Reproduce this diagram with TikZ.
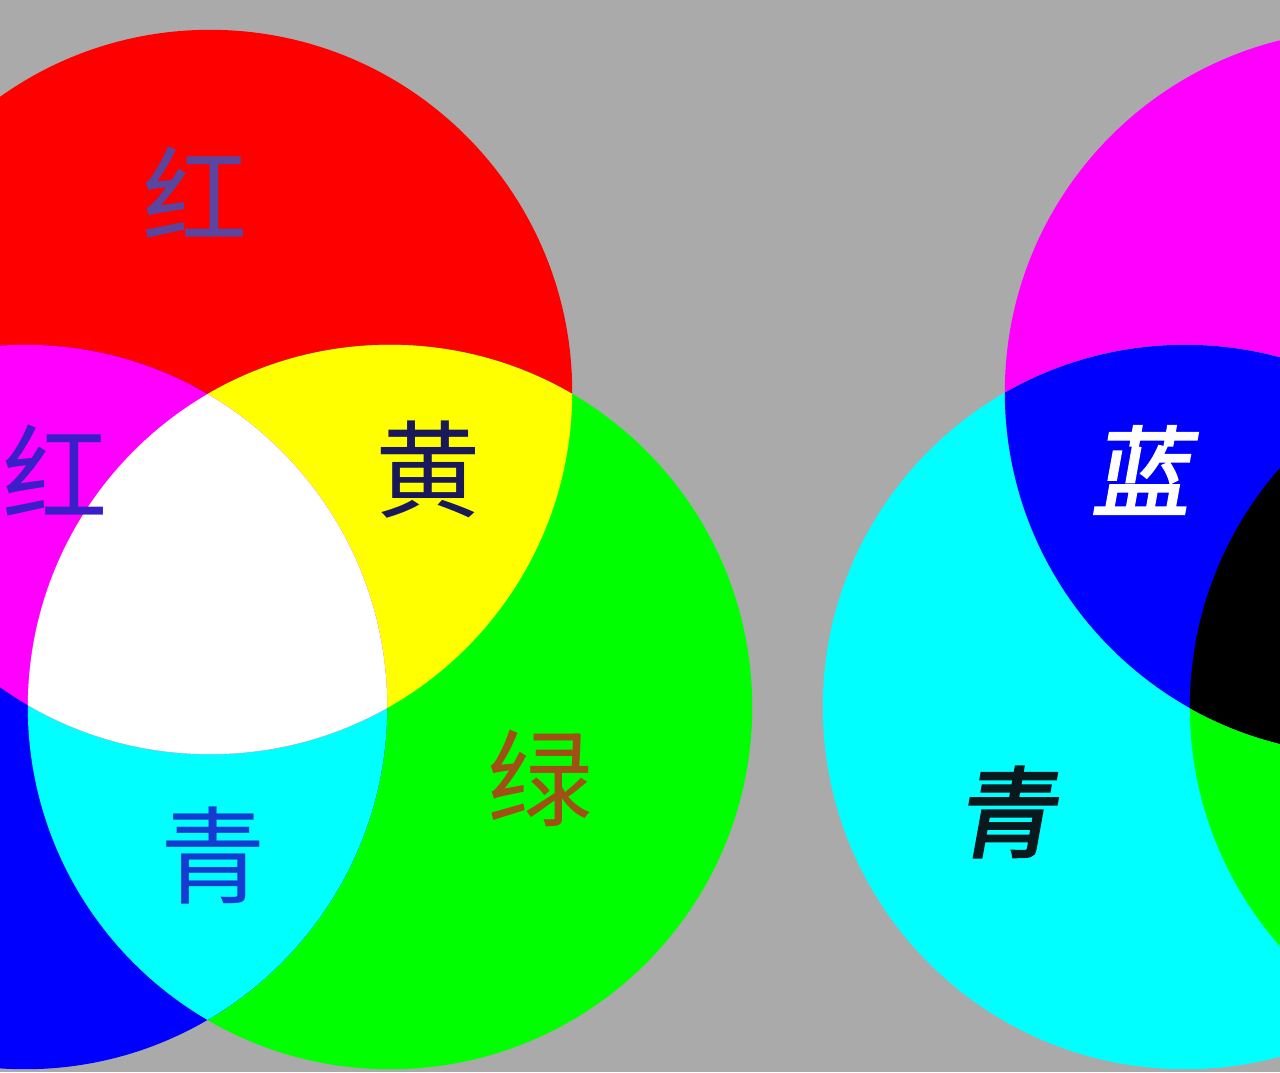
\documentclass[tikz,border=0pt]{standalone}
\usepackage{fontspec}
\usepackage{tikz}
\newfontfamily\cjk{Noto Sans CJK SC}
\newfontfamily\cjkslant[FakeSlant=0.18,FakeBold=2.5]{Noto Sans CJK SC}
\newcommand\ringr{3.62cm}
\definecolor{bg}{RGB}{170,170,170}
\definecolor{pred}{RGB}{255,0,0}
\definecolor{pgrn}{RGB}{0,255,0}
\definecolor{pblu}{RGB}{0,0,255}
\definecolor{pcyn}{RGB}{0,255,255}
\definecolor{pmag}{RGB}{255,0,255}
\definecolor{pyel}{RGB}{255,255,0}
\definecolor{lblred}{RGB}{90,70,160}
\definecolor{lblmag}{RGB}{60,30,200}
\definecolor{lblyel}{RGB}{25,25,90}
\definecolor{lblgrn}{RGB}{160,80,20}
\definecolor{lblcyn}{RGB}{20,60,210}
\definecolor{lbldark}{RGB}{10,25,30}

\begin{document}
\begin{tikzpicture}[x=0.01cm,y=-0.01cm,
  lbl/.style={inner sep=0pt,font=\cjk\fontsize{30}{30}\selectfont},
  slbl/.style={inner sep=0pt,font=\cjkslant\fontsize{28}{28}\selectfont}]
\useasboundingbox (0,0) rectangle (1280,1072);
\fill[bg] (0,0) rectangle (1280,1072);
\clip (0,0) rectangle (1280,1072);

\coordinate (r) at (210,392);
\coordinate (g) at (390,707);
\coordinate (b) at (25,707);
\coordinate (m) at (1367,392);
\coordinate (c) at (1185,707);
\coordinate (y) at (1552,707);

% additive
\fill[pred] (r) circle[radius=\ringr];
\fill[pgrn] (g) circle[radius=\ringr];
\fill[pblu] (b) circle[radius=\ringr];
\begin{scope}
  \clip (g) circle[radius=\ringr];
  \fill[pcyn] (b) circle[radius=\ringr];
\end{scope}
\begin{scope}
  \clip (r) circle[radius=\ringr];
  \fill[pyel] (g) circle[radius=\ringr];
  \fill[pmag] (b) circle[radius=\ringr];
  \clip (g) circle[radius=\ringr];
  \fill[white] (b) circle[radius=\ringr];
\end{scope}

% subtractive
\fill[pmag] (m) circle[radius=\ringr];
\fill[pyel] (y) circle[radius=\ringr];
\fill[pcyn] (c) circle[radius=\ringr];
\begin{scope}
  \clip (y) circle[radius=\ringr];
  \fill[pgrn] (c) circle[radius=\ringr];
\end{scope}
\begin{scope}
  \clip (m) circle[radius=\ringr];
  \fill[pred] (y) circle[radius=\ringr];
  \fill[pblu] (c) circle[radius=\ringr];
  \clip (y) circle[radius=\ringr];
  \fill[black] (c) circle[radius=\ringr];
\end{scope}

\node[lbl,text=lblred] (tred) at (195,192) {红};
\node[lbl,text=lblmag] (tmag) at (55,470) {红};
\node[lbl,text=lblyel] (tyel) at (428,470) {黄};
\node[lbl,text=lblgrn] (tgrn) at (540,778) {绿};
\node[lbl,text=lblcyn] (tcyn) at (213,855) {青};
\node[slbl,text=white] (tblu) at (1140,470) {蓝};
\node[slbl,text=lbldark] (tcyn2) at (1005,812) {青};
\end{tikzpicture}
\end{document}
